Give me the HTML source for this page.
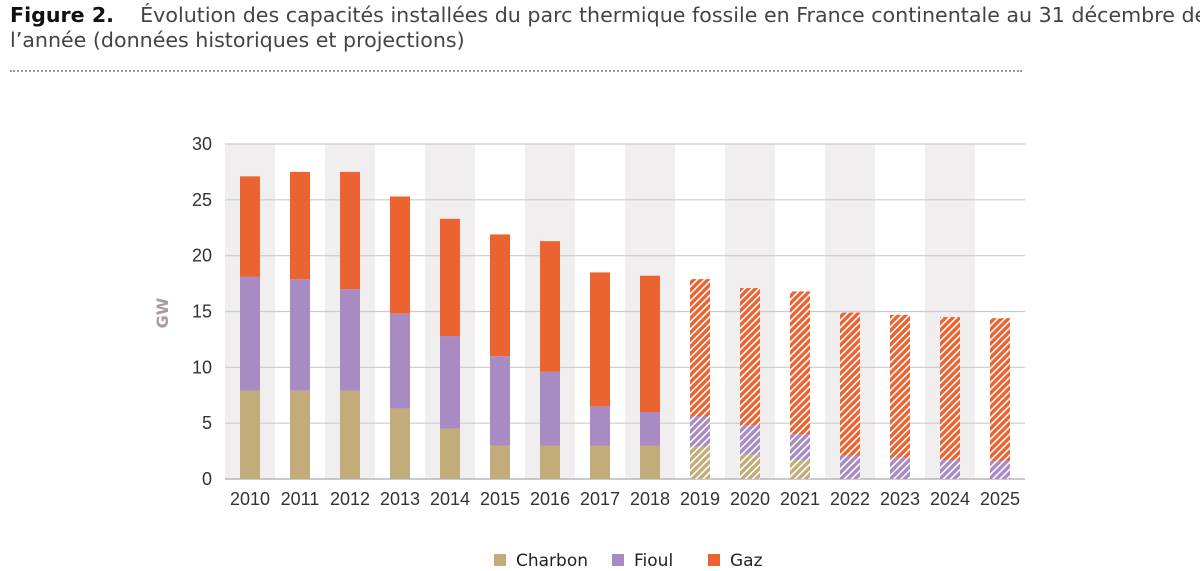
<!DOCTYPE html>
<html><head><meta charset="utf-8"><style>
body{margin:0;width:1200px;height:571px;background:#fff;overflow:hidden;position:relative;font-family:"DejaVu Sans","Liberation Sans",sans-serif;}
.t{position:absolute;left:10px;white-space:nowrap;font-size:20.6px;color:#444;}
</style></head><body>
<div class="t" style="top:3px"><b style="color:#111">Figure 2.</b>&nbsp;&nbsp;&nbsp; Évolution des capacités installées du parc thermique fossile en France continentale au 31 décembre de</div>
<div class="t" style="top:28px">l’année (données historiques et projections)</div>
<div style="position:absolute;left:10px;top:70px;width:1012px;border-top:2px dotted #999;"></div>
<svg id="chart" width="1200" height="571" style="position:absolute;left:0;top:0">
<defs>
<pattern id="hG" patternUnits="userSpaceOnUse" width="5" height="5" patternTransform="rotate(45)"><rect width="5" height="5" fill="#ec6332"/><rect width="1.6" height="5" fill="#fff"/></pattern>
<pattern id="hF" patternUnits="userSpaceOnUse" width="5" height="5" patternTransform="rotate(45)"><rect width="5" height="5" fill="#a78bc2"/><rect width="1.6" height="5" fill="#fff"/></pattern>
<pattern id="hC" patternUnits="userSpaceOnUse" width="5" height="5" patternTransform="rotate(45)"><rect width="5" height="5" fill="#c2ad7a"/><rect width="1.6" height="5" fill="#fff"/></pattern>
</defs>
</svg>
<script>
const years=["2010","2011","2012","2013","2014","2015","2016","2017","2018","2019","2020","2021","2022","2023","2024","2025"];
const charbon=[7.9,7.9,7.9,6.3,4.5,3.0,3.0,3.0,3.0,2.9,2.2,1.7,0,0,0,0];
const fioul=[10.2,10.0,9.1,8.5,8.3,8.0,6.6,3.5,3.0,2.7,2.6,2.3,2.1,1.9,1.7,1.6];
const gaz=[9.0,9.6,10.5,10.5,10.5,10.9,11.7,12.0,12.2,12.3,12.3,12.8,12.8,12.8,12.8,12.8];
const projected=[0,0,0,0,0,0,0,0,0,1,1,1,1,1,1,1];
const yTicks=[0,5,10,15,20,25,30];
const NS="http://www.w3.org/2000/svg";
const svg=document.getElementById('chart');
const y0=479,yTop=144,yMax=30;
const y=v=>y0-(v/yMax)*(y0-yTop);
const x=i=>250+i*50;
function mk(tag,a,txt){const e=document.createElementNS(NS,tag);for(const k in a)e.setAttribute(k,a[k]);if(txt!=null)e.textContent=txt;svg.appendChild(e);return e;}
years.forEach((yr,i)=>{if(i%2===0){const b=mk('rect',{x:x(i)-25,y:yTop,width:50,height:y0-yTop,fill:'#f0eeef'});

}});
yTicks.forEach(t=>{const l=mk('line',{x1:225,x2:1025,y1:y(t),y2:y(t),stroke:t===0?'#aaa':'#cfc8cc','stroke-width':1.2});


const lb=mk('text',{x:212,y:y(t)+6,'text-anchor':'end','font-size':18,fill:'#333','font-family':'Liberation Sans, sans-serif'},t);

});
const series=[[charbon,'#c2ad7a','url(#hC)','charbon'],[fioul,'#a78bc2','url(#hF)','fioul'],[gaz,'#ec6332','url(#hG)','gaz']];
years.forEach((yr,i)=>{let base=0;series.forEach(s=>{const v=s[0][i];if(v>0){const r=mk('rect',{x:x(i)-10,y:y(base+v),width:20,height:y(base)-y(base+v),fill:projected[i]?s[2]:s[1]});

}base+=v;});
const lb=mk('text',{x:x(i),y:505,'text-anchor':'middle','font-size':18,fill:'#333','font-family':'Liberation Sans, sans-serif'},yr);

});
const gw=mk('text',{x:0,y:0,transform:'translate(168,313) rotate(-90)','text-anchor':'middle','font-size':16,'font-weight':'bold',fill:'#a89a9f'},'GW');


[['Charbon','#c2ad7a',494],['Fioul','#a78bc2',612],['Gaz','#ec6332',708]].forEach(l=>{const r=mk('rect',{x:l[2],y:554,width:12,height:12,fill:l[1]});


const t=mk('text',{x:l[2]+22,y:566,'font-size':17,fill:'#222'},l[0]);

});
</script>
</body></html>
